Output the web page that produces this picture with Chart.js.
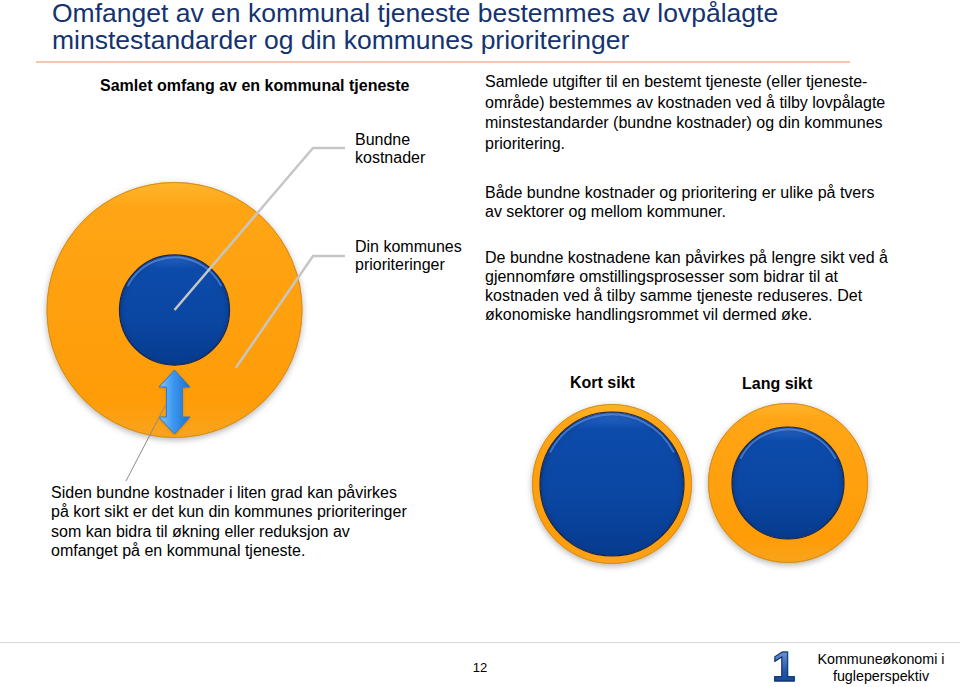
<!DOCTYPE html>
<html>
<head>
<meta charset="utf-8">
<script src="https://cdn.jsdelivr.net/npm/chart.js@4.4.1/dist/chart.umd.min.js"></script>
<style>
  body { margin: 0; background: #fff; }
  #slide { position: relative; width: 960px; height: 687px; overflow: hidden; font-family: Arial, "Liberation Sans", sans-serif; color: #000; }
  .t { position: absolute; white-space: nowrap; font-size: 16px; line-height: 19px; }
  .b { font-weight: bold; }
  canvas { position: absolute; }
  #title { position: absolute; left: 52px; top: 0; font-size: 26.5px; line-height: 27px; color: #15336e; white-space: nowrap; }
  #rule { position: absolute; left: 36px; top: 61px; width: 814px; height: 1.5px; background: #f4c6b0; }
  #foot { position: absolute; left: 0; top: 642px; width: 960px; height: 1px; background: #d8d8d8; }
  #logo { position: absolute; left: 772px; top: 646px; font: bold 42px Arial, "Liberation Sans", sans-serif; line-height: 42px;
          background: linear-gradient(#7ea4dc, #2456a8 60%, #143f8c); -webkit-background-clip: text; background-clip: text; color: transparent;
          -webkit-text-stroke: 1px #0d2f6e; }
</style>
</head>
<body>
<div id="slide">
  <div id="title">Omfanget av en kommunal tjeneste bestemmes av lovpålagte<br>minstestandarder og din kommunes prioriteringer</div>
  <div id="rule"></div>

  <div class="t b" style="left:100px;top:76px;">Samlet omfang av en kommunal tjeneste</div>
  <div class="t" style="left:355px;top:131px;line-height:18px;">Bundne<br>kostnader</div>
  <div class="t" style="left:355px;top:238px;line-height:18px;">Din kommunes<br>prioriteringer</div>

  <div class="t" style="left:485px;top:72px;line-height:20.5px;">Samlede utgifter til en bestemt tjeneste (eller tjeneste-<br>område) bestemmes av kostnaden ved å tilby lovpålagte<br>minstestandarder (bundne kostnader) og din kommunes<br>prioritering.</div>
  <div class="t" style="left:485px;top:183px;">Både bundne kostnader og prioritering er ulike på tvers<br>av sektorer og mellom kommuner.</div>
  <div class="t" style="left:485px;top:248px;">De bundne kostnadene kan påvirkes på lengre sikt ved å<br>gjennomføre omstillingsprosesser som bidrar til at<br>kostnaden ved å tilby samme tjeneste reduseres. Det<br>økonomiske handlingsrommet vil dermed øke.</div>

  <div class="t b" style="left:570px;top:373px;width:64px;text-align:center;">Kort sikt</div>
  <div class="t b" style="left:742px;top:374px;width:70px;text-align:center;">Lang sikt</div>

  <div class="t" style="left:51px;top:483px;line-height:19.3px;">Siden bundne kostnader i liten grad kan påvirkes<br>på kort sikt er det kun din kommunes prioriteringer<br>som kan bidra til økning eller reduksjon av<br>omfanget på en kommunal tjeneste.</div>

  <canvas id="c0" width="360" height="350" style="left:0;top:140px;"></canvas>
  <canvas id="c1" width="180" height="180" style="left:522px;top:394px;"></canvas>
  <canvas id="c2" width="180" height="180" style="left:698px;top:393px;"></canvas>

  <div id="foot"></div>
  <div class="t" style="left:460px;top:658px;width:40px;text-align:center;font-size:13px;">12</div>
  <div id="logo">1</div>
  <div class="t" style="left:800px;top:651px;width:162px;text-align:center;font-size:14.3px;line-height:17px;">Kommuneøkonomi i<br>fugleperspektiv</div>
</div>

<script>
// one circle per situation: orange ring = bundne kostnader, blue core = prioriteringer
// values = share of the radius (%)
const circleNames = ['Samlet omfang', 'Kort sikt', 'Lang sikt'];
const bundneKostnader = [57, 10, 30];
const prioriteringer = [43, 90, 70];
const seriesNames = ['Bundne kostnader', 'Din kommunes prioriteringer'];

function geo(chart) {
  const a = chart.chartArea;
  return { cx: (a.left + a.right) / 2, cy: (a.top + a.bottom) / 2, r: Math.min(a.right - a.left, a.bottom - a.top) / 2 };
}

function orangeFill(c) {
  const chart = c.chart;
  if (!chart.chartArea) return '#ffa010';
  const { cy, r } = geo(chart);
  const g = chart.ctx.createLinearGradient(0, cy - r, 0, cy + r);
  g.addColorStop(0, '#ffb52c');
  g.addColorStop(0.1, '#ffa515');
  g.addColorStop(0.85, '#ff9c08');
  g.addColorStop(1, '#f8a41e');
  return g;
}

function blueFill(i) {
  return function (c) {
    const chart = c.chart;
    if (!chart.chartArea) return '#0b48a6';
    const { cy, r } = geo(chart);
    const ri = r * prioriteringer[i] / (prioriteringer[i] + bundneKostnader[i]);
    const g = chart.ctx.createLinearGradient(0, cy - ri, 0, cy + ri);
    g.addColorStop(0, '#2a68cc');
    g.addColorStop(0.12, '#0d4bab');
    g.addColorStop(0.6, '#0a46a2');
    g.addColorStop(1, '#063b8e');
    return g;
  };
}

const glow = {
  id: 'glow',
  beforeDatasetDraw(chart, args) {
    const c = chart.ctx;
    c.save();
    c.shadowColor = 'rgba(0,0,0,0.3)';
    c.shadowBlur = args.index === 0 ? 6 : 3;
    c.shadowOffsetY = 2;
  },
  afterDatasetDraw(chart) { chart.ctx.restore(); }
};

// thin edges drawn as plain circles (the arc border leaves a seam on full circles)
const edges = {
  id: 'edges',
  afterDatasetsDraw(chart) {
    const c = chart.ctx;
    const ring = chart.getDatasetMeta(0).data[0];
    const core = chart.getDatasetMeta(1).data[0];
    c.save();
    c.lineWidth = 1;
    c.strokeStyle = '#d38d1c';
    c.beginPath();
    c.arc(ring.x, ring.y, ring.outerRadius - 0.5, 0, Math.PI * 2);
    c.stroke();
    c.strokeStyle = '#14264e';
    c.lineWidth = 1.2;
    c.beginPath();
    c.arc(core.x, core.y, core.outerRadius, 0, Math.PI * 2);
    c.stroke();
    // soft highlight along the top of the blue core
    c.strokeStyle = 'rgba(110,160,240,0.55)';
    c.lineWidth = 2;
    c.beginPath();
    c.arc(core.x, core.y, core.outerRadius - 2.5, Math.PI * 1.15, Math.PI * 1.85);
    c.stroke();
    c.restore();
  }
};

// callout lines and the arrow, only on the big circle
const callouts = {
  id: 'callouts',
  afterDatasetsDraw(chart) {
    const c = chart.ctx;
    const core = chart.getDatasetMeta(1).data[0];
    const ring = chart.getDatasetMeta(0).data[0];
    const x = core.x, y = core.y, R = ring.outerRadius;
    c.save();
    c.strokeStyle = '#c6c6c6';
    c.lineWidth = 2.5;
    c.beginPath();
    c.moveTo(345, 8); c.lineTo(313, 8); c.lineTo(x, y);
    c.stroke();
    c.beginPath();
    c.moveTo(345, 116); c.lineTo(313, 116); c.lineTo(x + R * 0.48, y + R * 0.45);
    c.stroke();

    // double arrow
    const y1 = y + 60, y2 = y + 124, hw = 15.5, sw = 8, hl = 17;
    c.beginPath();
    c.moveTo(x, y1); c.lineTo(x + hw, y1 + hl); c.lineTo(x + sw, y1 + hl); c.lineTo(x + sw, y2 - hl);
    c.lineTo(x + hw, y2 - hl); c.lineTo(x, y2); c.lineTo(x - hw, y2 - hl); c.lineTo(x - sw, y2 - hl);
    c.lineTo(x - sw, y1 + hl); c.lineTo(x - hw, y1 + hl); c.closePath();
    const g = c.createLinearGradient(x - hw, 0, x + hw, 0);
    g.addColorStop(0, '#86c6ff');
    g.addColorStop(0.45, '#3d98f0');
    g.addColorStop(1, '#1c6fcc');
    c.shadowColor = 'rgba(0,0,0,0.25)';
    c.shadowBlur = 3;
    c.shadowOffsetY = 1;
    c.fillStyle = g;
    c.fill();
    c.shadowColor = 'transparent';
    c.strokeStyle = '#2a7ed6';
    c.lineWidth = 1;
    c.stroke();

    c.strokeStyle = '#8a8a8a';
    c.lineWidth = 1;
    c.beginPath();
    c.moveTo(x - 9, y + 95); c.lineTo(126, 341);
    c.stroke();
    c.restore();
  }
};

function makeCircle(id, i, padding, extra) {
  new Chart(document.getElementById(id), {
    type: 'doughnut',
    data: {
      labels: [circleNames[i]],
      datasets: [
        { label: seriesNames[0], data: [1], weight: bundneKostnader[i], backgroundColor: orangeFill, borderWidth: 0 },
        { label: seriesNames[1], data: [1], weight: prioriteringer[i], backgroundColor: blueFill(i), borderWidth: 0 }
      ]
    },
    options: {
      responsive: false,
      animation: false,
      events: [],
      cutout: 0,
      layout: { padding: padding },
      plugins: { legend: { display: false }, tooltip: { enabled: false } }
    },
    plugins: [glow, edges].concat(extra)
  });
}

makeCircle('c0', 0, { left: 46.5, right: 57.5, top: 42, bottom: 52 }, [callouts]);
makeCircle('c1', 1, 10, []);
makeCircle('c2', 2, 10, []);
</script>
</body>
</html>
